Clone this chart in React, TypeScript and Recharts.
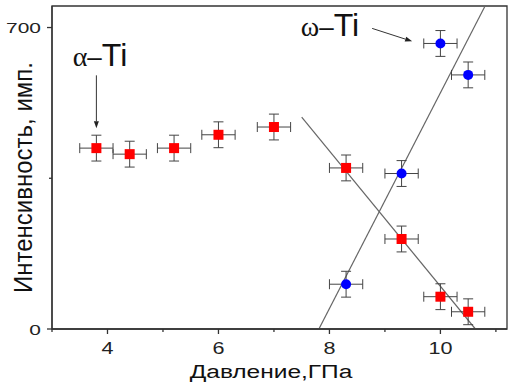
import {
  ScatterChart, Scatter, XAxis, YAxis, ErrorBar, ReferenceLine, ReferenceArea, ReferenceDot,
} from 'recharts'

// pressure (GPa) / intensity (counts)
const alphaP = [3.8, 4.4, 5.2, 6.0, 7.0, 8.3, 9.3, 10.0, 10.5]
const alphaI = [420, 406, 420, 451, 469, 374, 209, 75, 40]
const omegaP = [8.3, 9.3, 10.0, 10.5]
const omegaI = [104, 361, 663, 590]
const P_ERR = 0.3
const I_ERR = 30

// linear fits, end points
const alphaFit = [{ x: 7.5, y: 492 }, { x: 10.63, y: 0 }]
const omegaFit = [{ x: 7.81, y: 0 }, { x: 10.8, y: 749 }]

const xTicks = [3, 4, 5, 6, 7, 8, 9, 10, 11]
const yTicks = [0, 350, 700]
const xMajor = [4, 6, 8, 10]
const yMajor = [0, 700]

const FONT = '"Liberation Sans", Arial, sans-serif'
const SERIF = '"Liberation Serif", "Times New Roman", serif'
const AXIS = '#333'

const alphaData = alphaP.map((p, i) => ({ p, v: alphaI[i], ep: P_ERR, ev: I_ERR }))
const omegaData = omegaP.map((p, i) => ({ p, v: omegaI[i], ep: P_ERR, ev: I_ERR }))

function XTick({ x, y, payload }: any) {
  const major = xMajor.includes(payload.value)
  return (
    <g>
      <line x1={x} x2={x} y1={y} y2={y + (major ? 5 : 3)} stroke={AXIS} strokeWidth={1.3} />
      {major && (
        <text x={0} y={0} transform={`translate(${x},${y + 25}) scale(1.35,1)`} textAnchor="middle"
          fontSize={16} fontFamily={FONT} fill="#222">
          {payload.value}
        </text>
      )}
    </g>
  )
}

function YTick({ x, y, payload }: any) {
  const major = yMajor.includes(payload.value)
  return (
    <g>
      <line x1={x} x2={x - (major ? 5 : 3)} y1={y} y2={y} stroke={AXIS} strokeWidth={1.3} />
      {major && (
        <text x={0} y={0} transform={`translate(${x - 11},${y + 5.5}) scale(1.35,1)`} textAnchor="end"
          fontSize={15.5} fontFamily={FONT} fill="#222">
          {payload.value}
        </text>
      )}
    </g>
  )
}

const Square = ({ cx, cy }: any) => <rect x={cx - 5} y={cy - 5} width={10} height={10} fill="#ff0000" />
const Dot = ({ cx, cy }: any) => <circle cx={cx} cy={cy} r={5} fill="#0000ff" />

function Arrow(props: any) {
  const { x1, y1, x2, y2 } = props
  const a = Math.atan2(y2 - y1, x2 - x1)
  const L = 7, W = 2.5
  const bx = x2 - L * Math.cos(a), by = y2 - L * Math.sin(a)
  const px = -Math.sin(a) * W, py = Math.cos(a) * W
  return (
    <g>
      <line x1={x1} y1={y1} x2={bx} y2={by} stroke="#333" strokeWidth={1} />
      <polygon points={`${x2},${y2} ${bx + px},${by + py} ${bx - px},${by - py}`} fill="#222" />
    </g>
  )
}

const phaseText = (greek: string) => (p: any) => (
  <text x={p.cx} y={p.cy} textAnchor="middle" fill="#111" fontFamily={FONT}>
    <tspan fontFamily={SERIF} fontSize={28}>{greek}</tspan>
    <tspan fontSize={26}>–</tspan>
    <tspan fontSize={32}>Ti</tspan>
  </text>
)

export default function App() {
  return (
    <div style={{ position: 'fixed', left: 0, top: 0, background: '#fff' }}>
      <ScatterChart width={510} height={390} margin={{ top: 6, right: 3, left: 0, bottom: 0 }}>
        <XAxis
          type="number" dataKey="p" domain={[3, 11.2]} ticks={xTicks} interval={0}
          tick={<XTick />} tickLine={false} tickSize={0} tickMargin={0} height={61}
          axisLine={{ stroke: AXIS, strokeWidth: 1.3 }} allowDataOverflow
          label={{
            content: ({ viewBox }: any) => (
              <text x={0} y={0} transform={`translate(${viewBox.x + 219},${viewBox.y + 49}) scale(1.29,1)`}
                textAnchor="middle" fontSize={19} fontFamily={FONT} fill="#111">
                Давление,ГПа
              </text>
            ),
          }}
        />
        <YAxis
          type="number" dataKey="v" domain={[0, 750]} ticks={yTicks} interval={0}
          tick={<YTick />} tickLine={false} tickSize={0} tickMargin={0} width={52}
          axisLine={{ stroke: AXIS, strokeWidth: 1.3 }} allowDataOverflow
          label={{
            content: () => (
              <text
                x={0} y={0} textAnchor="middle" fontSize={24} fontFamily={FONT} fill="#111"
                transform="translate(23,177.5) rotate(-90) scale(1,1.1)" dominantBaseline="central"
              >
                Интенсивность, имп.
              </text>
            ),
          }}
        />
        <ReferenceArea x1={3} x2={11.2} y1={0} y2={750} fill="none" stroke={AXIS} strokeWidth={1.3} ifOverflow="visible" />
        <ReferenceLine segment={alphaFit} stroke="#666" strokeWidth={1.2} ifOverflow="hidden" />
        <ReferenceLine segment={omegaFit} stroke="#666" strokeWidth={1.2} ifOverflow="hidden" />
        <Scatter data={alphaData} shape={<Square />} isAnimationActive={false}>
          <ErrorBar dataKey="ep" direction="x" width={5} stroke="#444" strokeWidth={1} />
          <ErrorBar dataKey="ev" direction="y" width={5} stroke="#444" strokeWidth={1} />
        </Scatter>
        <Scatter data={omegaData} shape={<Dot />} isAnimationActive={false}>
          <ErrorBar dataKey="ep" direction="x" width={5} stroke="#444" strokeWidth={1} />
          <ErrorBar dataKey="ev" direction="y" width={5} stroke="#444" strokeWidth={1} />
        </Scatter>
        <ReferenceLine segment={[{ x: 3.8, y: 589 }, { x: 3.8, y: 466 }]} shape={Arrow} ifOverflow="visible" />
        <ReferenceLine segment={[{ x: 8.77, y: 698 }, { x: 9.49, y: 668 }]} shape={Arrow} ifOverflow="visible" />
        <ReferenceDot x={3.865} y={611} r={0} shape={phaseText('α')} ifOverflow="visible" />
        <ReferenceDot x={8.01} y={680} r={0} shape={phaseText('ω')} ifOverflow="visible" />
      </ScatterChart>
    </div>
  )
}
